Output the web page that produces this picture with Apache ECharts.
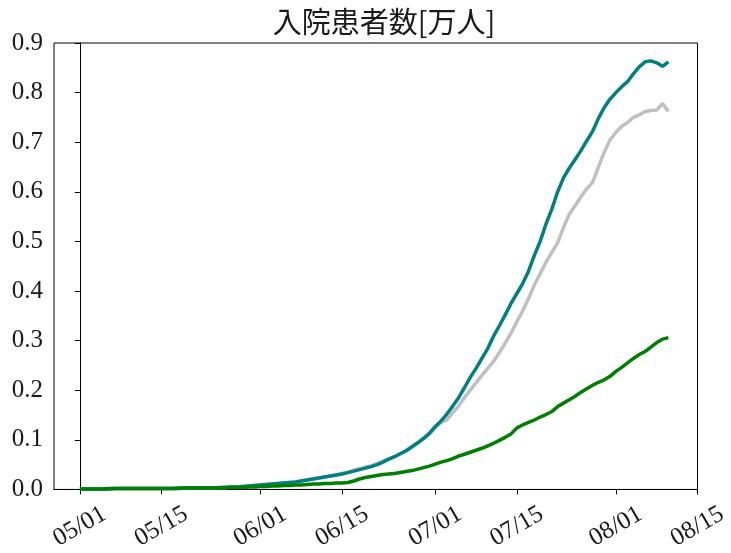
<!DOCTYPE html>
<html>
<head>
<meta charset="utf-8">
<script src="https://cdn.jsdelivr.net/npm/echarts@6/dist/echarts.min.js"></script>
<style>
  html, body { margin: 0; padding: 0; background: #fff; }
  #chart { width: 731px; height: 553px; }
</style>
</head>
<body>
<div id="chart"></div>
<script>
// Daily inpatient counts (units of 10,000 people), one value per day starting 05/01
const startDate = '2021-05-01';

const lineTeal = [
  0.001,0.001,0.001,0.001,0.001,0.001,0.002,0.002,0.002,0.002,
  0.002,0.002,0.002,0.002,0.002,0.002,0.002,0.002,0.003,0.003,
  0.003,0.003,0.003,0.003,0.004,0.004,0.005,0.005,0.006,0.007,
  0.008,0.009,0.010,0.011,0.012,0.013,0.014,0.015,0.017,0.019,
  0.021,0.023,0.025,0.027,0.029,0.031,0.034,0.037,0.040,0.043,
  0.046,0.050,0.055,0.061,0.066,0.072,0.078,0.086,0.094,0.103,
  0.113,0.127,0.138,0.152,0.168,0.185,0.205,0.226,0.244,0.264,
  0.284,0.309,0.330,0.352,0.375,0.395,0.415,0.440,0.472,0.500,
  0.535,0.565,0.600,0.628,0.648,0.665,0.683,0.703,0.722,0.748,
  0.770,0.787,0.800,0.812,0.822,0.838,0.852,0.862,0.864,0.860,
  0.853,0.862
];

const lineGray = [
  0.001,0.001,0.001,0.001,0.001,0.001,0.002,0.002,0.002,0.002,
  0.002,0.002,0.002,0.002,0.002,0.002,0.002,0.002,0.003,0.003,
  0.003,0.003,0.003,0.003,0.004,0.004,0.005,0.005,0.006,0.007,
  0.008,0.009,0.010,0.011,0.012,0.013,0.014,0.015,0.017,0.019,
  0.021,0.023,0.025,0.027,0.029,0.032,0.035,0.039,0.042,0.045,
  0.048,0.052,0.056,0.061,0.066,0.072,0.078,0.086,0.094,0.103,
  0.112,0.124,0.135,0.140,0.155,0.168,0.185,0.200,0.215,0.230,
  0.244,0.258,0.276,0.295,0.315,0.338,0.360,0.385,0.412,0.435,
  0.458,0.478,0.497,0.528,0.555,0.572,0.590,0.606,0.619,0.650,
  0.680,0.705,0.720,0.732,0.740,0.750,0.755,0.762,0.764,0.765,
  0.778,0.762
];

const lineGreen = [
  0.001,0.001,0.001,0.001,0.001,0.002,0.002,0.002,0.002,0.002,
  0.002,0.002,0.002,0.002,0.002,0.002,0.002,0.003,0.003,0.003,
  0.003,0.003,0.003,0.003,0.003,0.004,0.004,0.004,0.004,0.005,
  0.005,0.006,0.006,0.007,0.007,0.008,0.008,0.009,0.009,0.010,
  0.011,0.011,0.012,0.012,0.013,0.013,0.014,0.017,0.021,0.024,
  0.026,0.028,0.030,0.031,0.032,0.034,0.036,0.038,0.041,0.044,
  0.047,0.051,0.055,0.058,0.062,0.067,0.071,0.075,0.079,0.083,
  0.088,0.093,0.099,0.105,0.112,0.124,0.130,0.135,0.140,0.146,
  0.151,0.157,0.167,0.174,0.181,0.188,0.196,0.203,0.210,0.216,
  0.221,0.228,0.238,0.246,0.255,0.264,0.272,0.278,0.287,0.296,
  0.303,0.306
];

const xTickLabels = ['05/01','05/15','06/01','06/15','07/01','07/15','08/01','08/15'];

// x positions are day offsets from startDate
const DAY = 86400000;
const year = Number(startDate.slice(0, 4));
const t0 = Date.parse(startDate + 'T00:00:00Z');

function dayOffset(mmdd) {
  const [m, d] = mmdd.split('/').map(Number);
  return Math.round((Date.UTC(year, m - 1, d) - t0) / DAY);
}
function pair(values) {
  return values.map((v, i) => [i, v]);
}

const tickDays = xTickLabels.map(dayOffset);
const serif = '"Liberation Serif", "Times New Roman", Times, serif';

const chart = echarts.init(document.getElementById('chart'), null, { renderer: 'canvas' });
chart.setOption({
  animation: false,
  backgroundColor: '#ffffff',
  title: {
    text: '入院患者数[万人]',
    left: 379,
    textAlign: 'center',
    top: 2,
    textStyle: {
      fontFamily: '"Noto Sans CJK JP", sans-serif',
      fontWeight: 'normal',
      fontSize: 29,
      color: '#1a1a1a'
    }
  },
  grid: {
    left: 54, right: 29, top: 43, bottom: 61,
    show: true, borderColor: '#000', borderWidth: 1,
    containLabel: false
  },
  xAxis: {
    type: 'value',
    min: -4.43,
    max: dayOffset('08/15'),
    axisLine: { lineStyle: { color: '#000', width: 1 } },
    axisTick: { show: true, inside: false, length: 5, customValues: tickDays, lineStyle: { color: '#000' } },
    splitLine: { show: false },
    axisLabel: {
      customValues: tickDays,
      rotate: 30,
      align: 'center',
      verticalAlign: 'middle',
      margin: 37,
      fontFamily: serif,
      fontSize: 25,
      color: '#1a1a1a',
      formatter: (val) => {
        const idx = tickDays.indexOf(Math.round(val));
        return idx >= 0 ? xTickLabels[idx] : '';
      }
    }
  },
  yAxis: {
    type: 'value',
    min: 0,
    max: 0.9,
    interval: 0.1,
    axisLine: { show: true, lineStyle: { color: '#000', width: 1 } },
    axisTick: { show: true, inside: false, length: 5, lineStyle: { color: '#000' } },
    splitLine: { show: false },
    axisLabel: {
      margin: 11,
      fontFamily: serif,
      fontSize: 25,
      color: '#1a1a1a',
      formatter: (v) => v.toFixed(1)
    }
  },
  series: [
    {
      type: 'line', data: pair(lineGray), showSymbol: false,
      lineStyle: { color: '#c0c0c0', width: 3.5 }, itemStyle: { color: '#c0c0c0' }
    },
    {
      type: 'line', data: pair(lineTeal), showSymbol: false,
      lineStyle: { color: '#008080', width: 3.5 }, itemStyle: { color: '#008080' }
    },
    {
      type: 'line', data: pair(lineGreen), showSymbol: false,
      lineStyle: { color: '#008000', width: 3.5 }, itemStyle: { color: '#008000' }
    }
  ]
});
</script>
</body>
</html>
